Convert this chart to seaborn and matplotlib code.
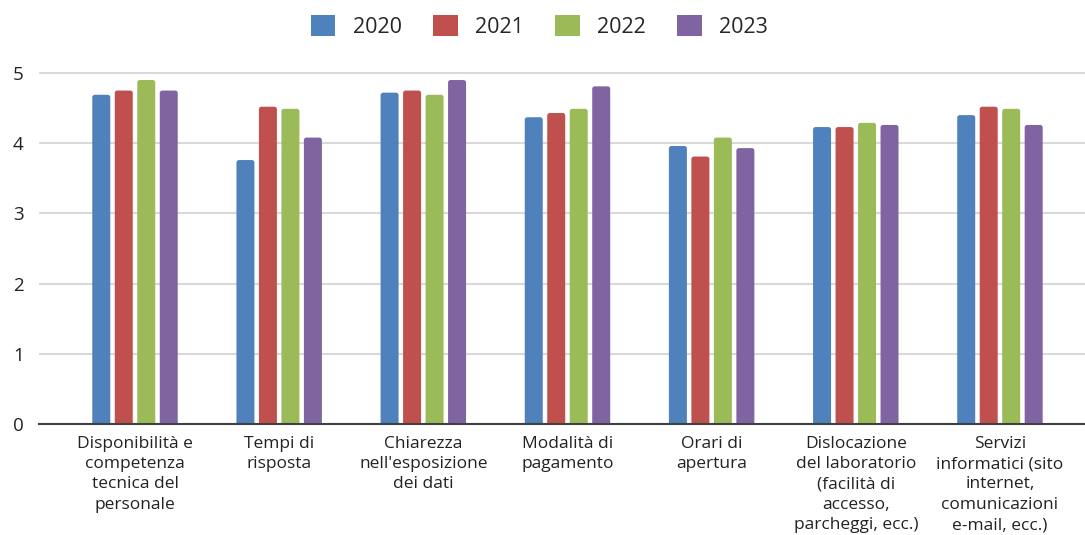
import matplotlib
matplotlib.use("Agg")
import matplotlib.pyplot as plt
from matplotlib.patches import FancyBboxPatch
import seaborn as sns
import pandas as pd

categories = [
    "Disponibilità e\ncompetenza\ntecnica del\npersonale",
    "Tempi di\nrisposta",
    "Chiarezza\nnell'esposizione\ndei dati",
    "Modalità di\npagamento",
    "Orari di\napertura",
    "Dislocazione\ndel laboratorio\n(facilità di\naccesso,\nparcheggi, ecc.)",
    "Servizi\ninformatici (sito\ninternet,\ncomunicazioni\ne-mail, ecc.)",
]
years = ["2020", "2021", "2022", "2023"]
v2020 = [4.69, 3.76, 4.72, 4.37, 3.96, 4.23, 4.40]
v2021 = [4.75, 4.52, 4.75, 4.43, 3.81, 4.23, 4.52]
v2022 = [4.90, 4.49, 4.69, 4.49, 4.08, 4.29, 4.49]
v2023 = [4.75, 4.08, 4.90, 4.81, 3.93, 4.26, 4.26]
colors = ["#4F81BD", "#C0504D", "#9BBB59", "#8064A2"]

rows = []
for yr, vals in zip(years, [v2020, v2021, v2022, v2023]):
    for c, v in zip(categories, vals):
        rows.append({"cat": c, "year": yr, "val": v})
df = pd.DataFrame(rows)

sns.set_style("white")
plt.rcParams["font.family"] = ["Open Sans", "DejaVu Sans"]

fig = plt.figure(figsize=(10.85, 5.35), dpi=100)
ax = fig.add_axes([39 / 1085, 0.2075, 1 - 39 / 1085, 0.6626])

sns.barplot(data=df, x="cat", y="val", hue="year", order=categories,
            hue_order=years, palette=colors, width=0.624, gap=0.2,
            saturation=1, ax=ax, legend=False, linewidth=0)

ax.set_ylim(0, 5.05)
ax.set_xlim(-0.666, 6.59)

# rounded bar tops (same geometry as seaborn's bars, bottoms hidden below axis)
fig.canvas.draw()
bbox = ax.get_window_extent()
xr = ax.get_xlim()[1] - ax.get_xlim()[0]
yr_ = ax.get_ylim()[1] - ax.get_ylim()[0]
aspect = (yr_ / bbox.height) / (xr / bbox.width)
rad_x = 2.5 * xr / bbox.width
rad_y = rad_x * aspect
for p in list(ax.patches):
    x, y = p.get_x(), p.get_y()
    w, h = p.get_width(), p.get_height()
    fb = FancyBboxPatch((x, y - rad_y), w, h + rad_y,
                        boxstyle=f"round,pad=0,rounding_size={rad_x}",
                        mutation_aspect=aspect, facecolor=p.get_facecolor(),
                        edgecolor="none", zorder=p.get_zorder())
    fb.set_clip_path(ax.patch)
    p.remove()
    ax.add_patch(fb)

ax.set_yticks([0, 1, 2, 3, 4, 5])
ax.set_xlabel("")
ax.set_ylabel("")
ax.grid(axis="y", color="#D9D9D9", linewidth=1.5)
ax.set_axisbelow(True)
for s in ["top", "right", "left"]:
    ax.spines[s].set_visible(False)
ax.spines["bottom"].set_color("#404040")
ax.spines["bottom"].set_linewidth(1.5)
ax.spines["bottom"].set_zorder(5)
ax.tick_params(axis="y", length=0, pad=11, labelsize=13.5, labelcolor="#222222")
ax.tick_params(axis="x", length=0, pad=8.5, labelsize=12.5, labelcolor="#222222")
for lab in ax.get_xticklabels():
    lab.set_linespacing(1.36)
    lab.set_ha("center")

handles = [plt.Rectangle((0, 0), 1, 1, facecolor=c, edgecolor="none") for c in colors]
fig.legend(handles, years, loc="center", bbox_to_anchor=(0.497, 0.95), ncol=4,
           frameon=False, fontsize=15.5, handlelength=1.15, handleheight=1.1,
           handletextpad=0.8, columnspacing=1.45)

fig.savefig("out.png", dpi=100)
